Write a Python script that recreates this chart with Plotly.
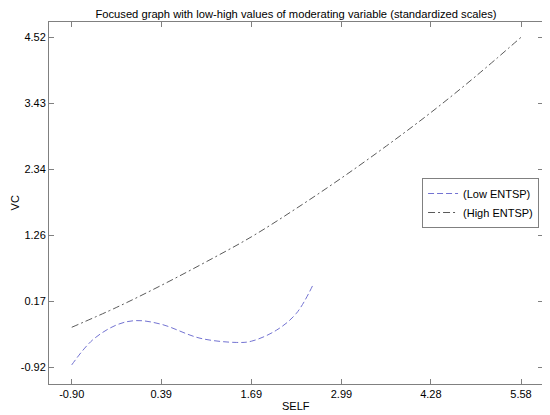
import plotly.graph_objects as go

# values
self_low = [-0.90, -0.60, -0.25, 0.03, 0.39, 0.95, 1.48, 1.69, 2.05, 2.34, 2.58]
vc_low = [-0.88, -0.47, -0.22, -0.15, -0.21, -0.44, -0.51, -0.49, -0.31, -0.03, 0.44]

self_high = [-0.90, -0.25, 0.39, 1.04, 1.69, 2.34, 2.99, 3.64, 4.28, 4.93, 5.58]
vc_high = [-0.26, 0.07, 0.43, 0.82, 1.23, 1.70, 2.20, 2.73, 3.28, 3.88, 4.52]

x_ticks = [-0.90, 0.39, 1.69, 2.99, 4.28, 5.58]
y_ticks = [-0.92, 0.17, 1.26, 2.34, 3.43, 4.52]

fig = go.Figure()

fig.add_trace(go.Scatter(
    x=self_low, y=vc_low, mode='lines', name='(Low ENTSP)',
    line=dict(color='#7373d2', width=1, dash='6px,3px', shape='spline')
))
fig.add_trace(go.Scatter(
    x=self_high, y=vc_high, mode='lines', name='(High ENTSP)',
    line=dict(color='#5a5a5a', width=1, dash='7px,3px,2px,3px', shape='spline')
))

axis_style = dict(
    showgrid=False, zeroline=False, automargin=False,
    showline=True, linecolor='#808080', linewidth=1, mirror='ticks',
    ticks='inside', ticklen=5, tickcolor='#808080',
    tickfont=dict(size=11, color='black'),
)

fig.update_xaxes(
    range=[-1.228, 5.897], tickvals=x_ticks,
    ticktext=['%.2f' % v for v in x_ticks],
    **axis_style
)
fig.update_yaxes(
    range=[-1.195, 4.772], tickvals=y_ticks,
    ticktext=['%.2f' % v for v in y_ticks],
    **axis_style
)

# the page body adds an 8px margin, so the figure is a bit smaller than the window
fig.update_layout(
    width=542, height=407,
    margin=dict(l=41, r=7, t=14, b=31, autoexpand=False),
    paper_bgcolor='white', plot_bgcolor='white',
    font=dict(family='Arial, Liberation Sans, sans-serif', size=11, color='black'),
    title=dict(
        text='Focused graph with low-high values of moderating variable (standardized scales)',
        x=0.5, xref='paper', y=0.986, yanchor='middle',
        font=dict(size=11.2, color='black')
    ),
    legend=dict(
        x=0.992, y=0.5, xanchor='right', yanchor='middle',
        bordercolor='#808080', borderwidth=1, bgcolor='white',
        font=dict(size=11, color='black'),
        tracegroupgap=0, itemwidth=30
    ),
    annotations=[
        dict(text='SELF', xref='paper', yref='paper', x=0.5, y=-0.061,
             yanchor='middle', showarrow=False, font=dict(size=11, color='black')),
        dict(text='VC', xref='paper', yref='paper', x=-0.068, y=0.5,
             xanchor='center', yanchor='middle',
             textangle=-90, showarrow=False, font=dict(size=11, color='black')),
    ],
    showlegend=True
)

fig.write_html("out.html")
